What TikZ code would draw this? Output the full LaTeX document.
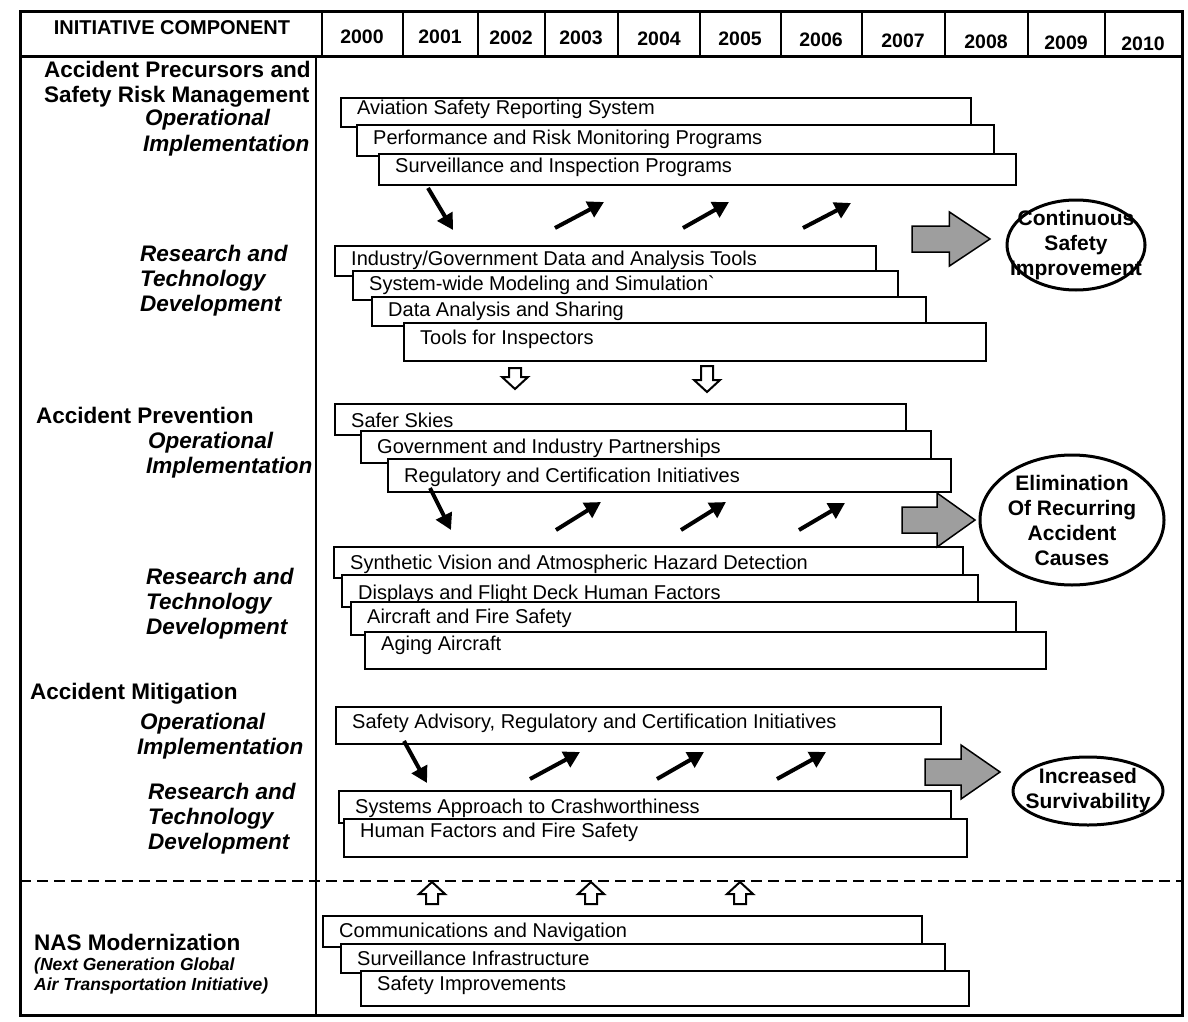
\documentclass[tikz,border=0pt]{standalone}
\usepackage{fontspec}
\setmainfont{Liberation Sans}
\usetikzlibrary{arrows.meta,shapes.geometric}

% a timeline bar: name, left, top, right, bottom, text centre y, text
\newcommand\tlbar[7]{%
  \pgfmathsetmacro\tlw{#4-#2}\pgfmathsetmacro\tlh{#5-#3}%
  \node[barbox, minimum width=\tlw pt, minimum height=\tlh pt] (#1) at (#2,#3) {};
  \node[barlabel] (#1-t) at (#2+17,#6) {#7};}

% grey block arrow: name, left x, middle y, length
\newcommand\grayarrow[4]{%
  \coordinate (#1) at (#2,#3);
  \draw[bigarrow] (#2,#3-13) -- (#2+0.48*#4,#3-13) -- (#2+0.48*#4,#3-27)
    -- (#2+#4,#3) -- (#2+0.48*#4,#3+27) -- (#2+0.48*#4,#3+13) -- (#2,#3+13) -- cycle;}

% small open arrow pointing down: name, centre x, top y, tip y
\newcommand\handdown[4]{%
  \coordinate (#1) at (#2,#4);
  \draw[openarrow] (#2-6,#3) -- (#2+6,#3) -- (#2+6,#4-12) -- (#2+13,#4-12) -- (#2,#4)
    -- (#2-13,#4-12) -- (#2-6,#4-12) -- cycle;}

% small open arrow pointing up: name, centre x, tip y, bottom y
\newcommand\handup[4]{%
  \coordinate (#1) at (#2,#3);
  \draw[openarrow] (#2-6,#4) -- (#2+6,#4) -- (#2+6,#3+12) -- (#2+13,#3+12) -- (#2,#3)
    -- (#2-13,#3+12) -- (#2-6,#3+12) -- cycle;}

\begin{document}
\begin{tikzpicture}[x=1pt,y=-1pt,
  frame/.style={line width=3pt},
  rule/.style={line width=2pt},
  barbox/.style={draw, line width=1.8pt, fill=white, anchor=north west, inner sep=0pt},
  barlabel/.style={anchor=west, inner sep=0pt, font=\fontsize{20}{24}\selectfont},
  head/.style={inner sep=0pt, font=\bfseries\fontsize{19.5}{23}\selectfont},
  grouptitle/.style={anchor=base west, inner sep=0pt, font=\bfseries\fontsize{22.5}{25}\selectfont},
  subtitle/.style={anchor=base west, inner sep=0pt, font=\bfseries\itshape\fontsize{22.5}{25}\selectfont},
  note/.style={anchor=base west, inner sep=0pt, font=\bfseries\itshape\fontsize{17.5}{20}\selectfont},
  flow/.style={line width=4pt, -{Triangle[length=16pt,width=17pt]}},
  goal/.style={ellipse, draw, line width=3pt, inner sep=0pt},
  goaltext/.style={align=center, inner sep=0pt, font=\bfseries\fontsize{21}{25}\selectfont},
  bigarrow/.style={draw, line width=1.5pt, fill=black!38, line join=miter},
  openarrow/.style={draw, line width=2pt, fill=white, line join=miter},
]
\useasboundingbox (0,0) rectangle (1188,1022);
\fill[white] (0,0) rectangle (1188,1022);

% ---------- frame and header ----------
\draw[frame] (20,12) rectangle (1182,1015);
\draw[frame] (20,57) -- (1182,57);
\foreach \x in {322,403,478,545,618,700,781,862,945,1028,1105}
  \draw[rule] (\x,12) -- (\x,57);
\draw[rule] (316,57) -- (316,1015);
\draw[line width=2.5pt, dash pattern=on 11pt off 6pt] (20,881) -- (1182,881);

\node[inner sep=0pt, font=\bfseries\fontsize{20}{23}\selectfont] (hdr) at (172,28) {INITIATIVE COMPONENT};
\foreach \yr/\x/\y in {2000/362/37,2001/440/37,2002/511/38,2003/581/38,2004/659/39,2005/740/39,
                       2006/821/40,2007/903/41,2008/986/42,2009/1066/43,2010/1143/44}
  \node[head] (y\yr) at (\x,\y) {\yr};

% ---------- row labels ----------
\node[grouptitle] (precursors-a) at (44,78)  {Accident Precursors and};
\node[grouptitle] (precursors-b) at (44,103) {Safety Risk Management};
\node[subtitle] (op1-a) at (145,126) {Operational};
\node[subtitle] (op1-b) at (143,151) {Implementation};
\node[subtitle] (rd1-a) at (140,261) {Research and};
\node[subtitle] (rd1-b) at (140,286) {Technology};
\node[subtitle] (rd1-c) at (140,311) {Development};

\node[grouptitle] (prevention) at (36,423) {Accident Prevention};
\node[subtitle] (op2-a) at (148,448) {Operational};
\node[subtitle] (op2-b) at (146,473) {Implementation};
\node[subtitle] (rd2-a) at (146,584) {Research and};
\node[subtitle] (rd2-b) at (146,609) {Technology};
\node[subtitle] (rd2-c) at (146,634) {Development};

\node[grouptitle] (mitigation) at (30,699) {Accident Mitigation};
\node[subtitle] (op3-a) at (140,729) {Operational};
\node[subtitle] (op3-b) at (137,754) {Implementation};
\node[subtitle] (rd3-a) at (148,799) {Research and};
\node[subtitle] (rd3-b) at (148,824) {Technology};
\node[subtitle] (rd3-c) at (148,849) {Development};

\node[grouptitle] (nas) at (34,950) {NAS Modernization};
\node[note] (nas-a) at (34,970) {(Next Generation Global};
\node[note] (nas-b) at (34,990) {Air Transportation Initiative)};

% ---------- accident precursors ----------
\tlbar{asrs}{340}{97}{970}{126}{109}{Aviation Safety Reporting System}
\tlbar{prmp}{356}{124}{993}{155}{139}{Performance and Risk Monitoring Programs}
\tlbar{sip}{378}{153}{1015}{184}{167}{Surveillance and Inspection Programs}

\tlbar{igdat}{334}{245}{875}{275}{260}{Industry/Government Data and Analysis Tools}
\tlbar{swms}{352}{270}{897}{299}{285}{System-wide Modeling and Simulation\textasciigrave}
\tlbar{daas}{371}{296}{925}{325}{311}{Data Analysis and Sharing}
\tlbar{tfi}{403}{322}{985}{360}{339}{Tools for Inspectors}

% ---------- accident prevention ----------
\tlbar{ss}{334}{403}{905}{434}{420}{Safer Skies}
\tlbar{gip}{360}{430}{930}{462}{448}{Government and Industry Partnerships}
\tlbar{rci}{387}{458}{950}{491}{477}{Regulatory and Certification Initiatives}

\tlbar{svahd}{333}{546}{962}{577}{564}{Synthetic Vision and Atmospheric Hazard Detection}
\tlbar{dfdhf}{341}{574}{977}{606}{594}{Displays and Flight Deck Human Factors}
\tlbar{afs}{350}{601}{1015}{634}{618}{Aircraft and Fire Safety}
\tlbar{aa}{364}{631}{1045}{668}{645}{Aging Aircraft}

% ---------- accident mitigation ----------
\tlbar{sarci}{335}{706}{940}{743}{723}{Safety Advisory, Regulatory and Certification Initiatives}
\tlbar{sacw}{338}{790}{950}{822}{808}{Systems Approach to Crashworthiness}
\tlbar{hffs}{343}{818}{966}{856}{832}{Human Factors and Fire Safety}

% ---------- NAS modernization ----------
\tlbar{cn}{322}{915}{921}{946}{932}{Communications and Navigation}
\tlbar{si}{340}{943}{944}{972}{958}{Surveillance Infrastructure}
\tlbar{sim}{360}{970}{968}{1005}{985}{Safety Improvements}

% ---------- feedback arrows between implementation and research ----------
\foreach \n/\ax/\ay/\bx/\by in {
    a1/428/188/453/230, a2/555/228/604/202, a3/683/228/729/202, a4/803/228/851/203,
    b1/430/488/451/530, b2/556/530/601/502, b3/681/530/726/502, b4/799/530/845/503,
    c1/404/741/427/783, c2/530/779/580/752, c3/657/779/704/752, c4/777/779/826/752} {
  \coordinate (f\n s) at (\ax,\ay);
  \coordinate (f\n e) at (\bx,\by);
  \draw[flow] (f\n s) -- (f\n e);
}

% ---------- outcome arrows and goals ----------
\grayarrow{ga1}{912}{239}{78}
\grayarrow{ga2}{902}{520}{73}
\grayarrow{ga3}{925}{772}{75}

\node[goal, minimum width=138pt, minimum height=90pt] (g1) at (1076,245) {};
\node[goaltext] (g1t) at (g1) {Continuous\\Safety\\Improvement};
\node[goal, minimum width=184pt, minimum height=130pt] (g2) at (1072,520) {};
\node[goaltext] (g2t) at (g2) {Elimination\\Of Recurring\\Accident\\Causes};
\node[goal, minimum width=150pt, minimum height=68pt] (g3) at (1088,791) {};
\node[goaltext] (g3t) at (g3) {Increased\\Survivability};

% ---------- hand-off arrows ----------
\handdown{d1}{515}{368}{389}
\handdown{d2}{707}{366}{392}
\handup{u1}{432}{882}{904}
\handup{u2}{591}{882}{904}
\handup{u3}{740}{882}{904}
\end{tikzpicture}
\end{document}
